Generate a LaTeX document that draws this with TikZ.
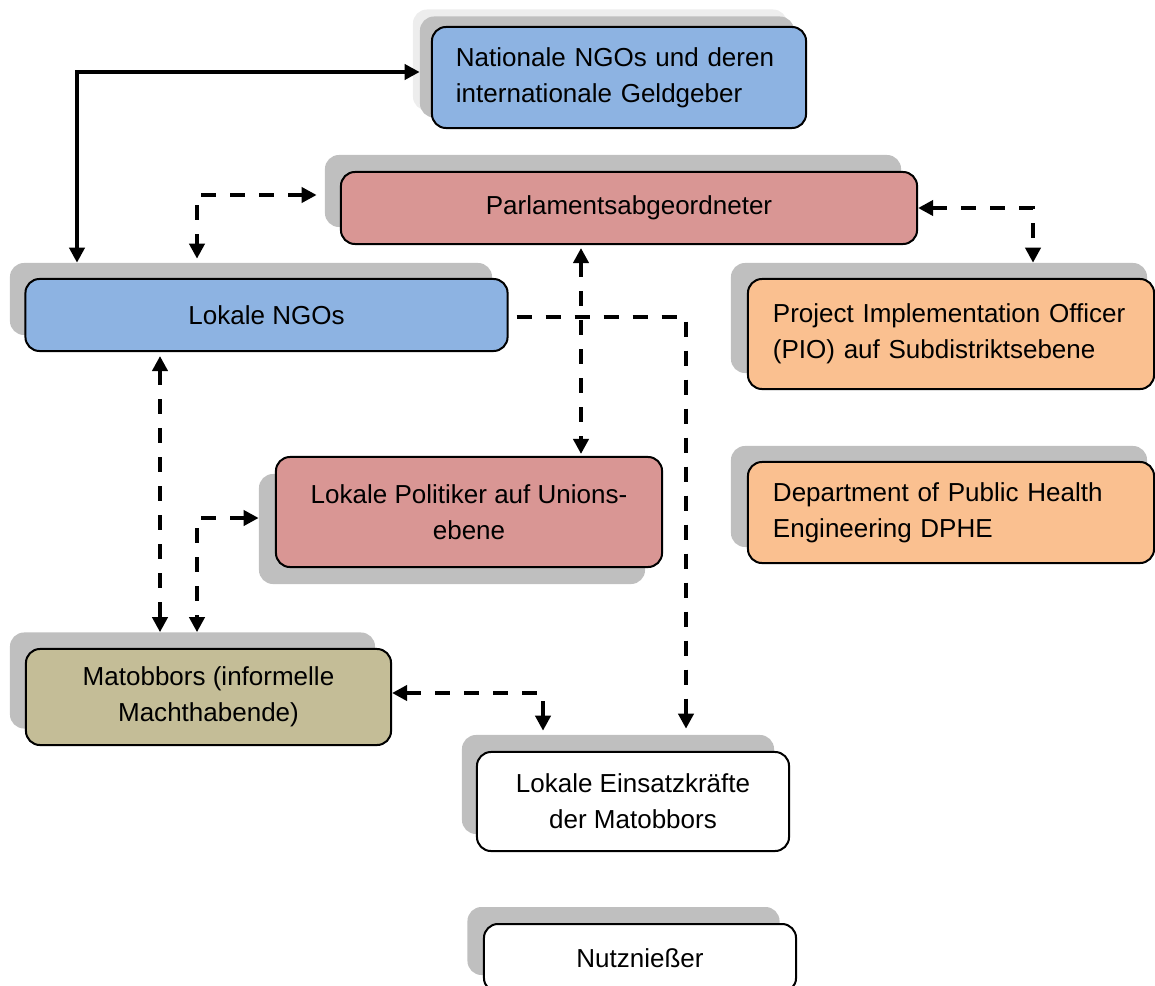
\documentclass[tikz,border=0pt]{standalone}
\usepackage{fontspec}
\setmainfont{Liberation Sans}
\usetikzlibrary{arrows.meta}
\definecolor{ngoblue}{HTML}{8DB3E2}
\definecolor{polred}{HTML}{D99694}
\definecolor{offorange}{HTML}{FAC090}
\definecolor{matolive}{HTML}{C4BD97}
\definecolor{shadowgray}{HTML}{BFBFBF}
\definecolor{halogray}{HTML}{EDEDED}

\begin{document}
\begin{tikzpicture}
  [
  x=0.025cm, y=-0.025cm,
  font=\fontsize{18.5pt}{25.6pt}\selectfont,
  actor/.style={rectangle, rounded corners=0.35cm, draw=black, line width=0.05cm, inner sep=0pt, align=center},
  shadowbox/.style={rectangle, rounded corners=0.35cm, fill=shadowgray, inner sep=0pt},
  link/.style={line width=0.1cm, >={Triangle[length=0.375cm, width=0.375cm]}},
  dlink/.style={link, dash pattern=on 0.375cm off 0.35cm}
  ]

\useasboundingbox (0,0) rectangle (1155,985);

% shadows
\node[shadowbox, fill=halogray, minimum width=9.35cm, minimum height=2.525cm] (nat-h) at (600,60) {};
\node[shadowbox, minimum width=9.35cm, minimum height=2.525cm] (nat-s) at (607,67) {};
\node[shadowbox, minimum width=14.4cm, minimum height=1.8cm] (parl-s) at (613,191) {};
\node[shadowbox, minimum width=12.05cm, minimum height=1.8cm] (lngo-s) at (251,299) {};
\node[shadowbox, minimum width=10.4cm, minimum height=2.75cm] (pio-s) at (939,318) {};
\node[shadowbox, minimum width=10.4cm, minimum height=2.525cm] (dphe-s) at (939,496.5) {};
\node[shadowbox, minimum width=9.65cm, minimum height=2.75cm] (pol-s) at (452,529) {};
\node[shadowbox, minimum width=9.125cm, minimum height=2.4cm] (mat-s) at (192.5,680.5) {};
\node[shadowbox, minimum width=7.8cm, minimum height=2.475cm] (eins-s) at (618,784.5) {};
\node[shadowbox, minimum width=7.8cm, minimum height=1.7cm] (nutz-s) at (623.5,941) {};

% boxes
\node[actor, fill=ngoblue, minimum width=9.35cm, minimum height=2.525cm, align=left, text width=8.15cm, inner xsep=0.6cm] (nat) at (619,77.5) {Nationale NGOs und deren\\internationale Geldgeber};
\node[actor, fill=polred, minimum width=14.4cm, minimum height=1.8cm] (parl) at (629,208) {Parlamentsabgeordneter};
\node[actor, fill=ngoblue, minimum width=12.05cm, minimum height=1.8cm] (lngo) at (266.5,315) {Lokale NGOs};
\node[actor, fill=offorange, minimum width=10.15cm, minimum height=2.75cm, align=left, text width=8.9cm, inner xsep=0.625cm] (pio) at (951,334) {Project Implementation Officer\\(PIO) auf Subdistriktsebene};
\node[actor, fill=offorange, minimum width=10.15cm, minimum height=2.525cm, align=left, text width=8.9cm, inner xsep=0.625cm] (dphe) at (951,512.5) {Department of Public Health\\Engineering DPHE};
\node[actor, fill=polred, minimum width=9.65cm, minimum height=2.75cm] (pol) at (469,512) {Lokale Politiker auf Unions-\\ebene};
\node[actor, fill=matolive, minimum width=9.125cm, minimum height=2.4cm] (mat) at (208.5,697) {Matobbors (informelle\\Machthabende)};
\node[actor, fill=white, minimum width=7.8cm, minimum height=2.475cm] (eins) at (633,801.5) {Lokale Einsatzkräfte\\der Matobbors};
\node[actor, fill=white, minimum width=7.8cm, minimum height=1.7cm] (nutz) at (640,958) {Nutznießer};

% bends
\coordinate (c1) at (77,72);
\coordinate (c2) at (197,195);
\coordinate (c3) at (1033,208);
\coordinate (c4) at (581,350);
\coordinate (c5) at (686,317);
\coordinate (c6) at (160,500);
\coordinate (c7) at (197,518);
\coordinate (c8) at (543,693);

\draw[link, <->] (c1 -| nat-s.west) -- (c1) -- (c1 |- lngo-s.north);
\draw[dlink, <->, shorten <=0.2cm, shorten >=0.1cm] (c2 -| parl-s.west) -- (c2) -- (c2 |- lngo-s.north);
\draw[dlink, <->] (parl.east) -- (c3) -- (c3 |- pio-s.north);
\draw[dlink, <->, shorten <=0.075cm, shorten >=0.05cm] (c4 |- parl.south) -- (c4 |- pol.north);
\draw[dlink, ->, shorten <=0.2cm, shorten >=0.15cm] (c5 -| lngo.east) -- (c5) -- (c5 |- eins-s.north);
\draw[dlink, <->, shorten <=0.1cm] (c6 |- lngo.south) -- (c6 |- mat-s.north);
\draw[dlink, <->] (c7 -| pol-s.west) -- (c7) -- (c7 |- mat-s.north);
\draw[dlink, <->, shorten >=0.1cm] (c8 -| mat.east) -- (c8) -- (c8 |- eins-s.north);
\end{tikzpicture}
\end{document}
